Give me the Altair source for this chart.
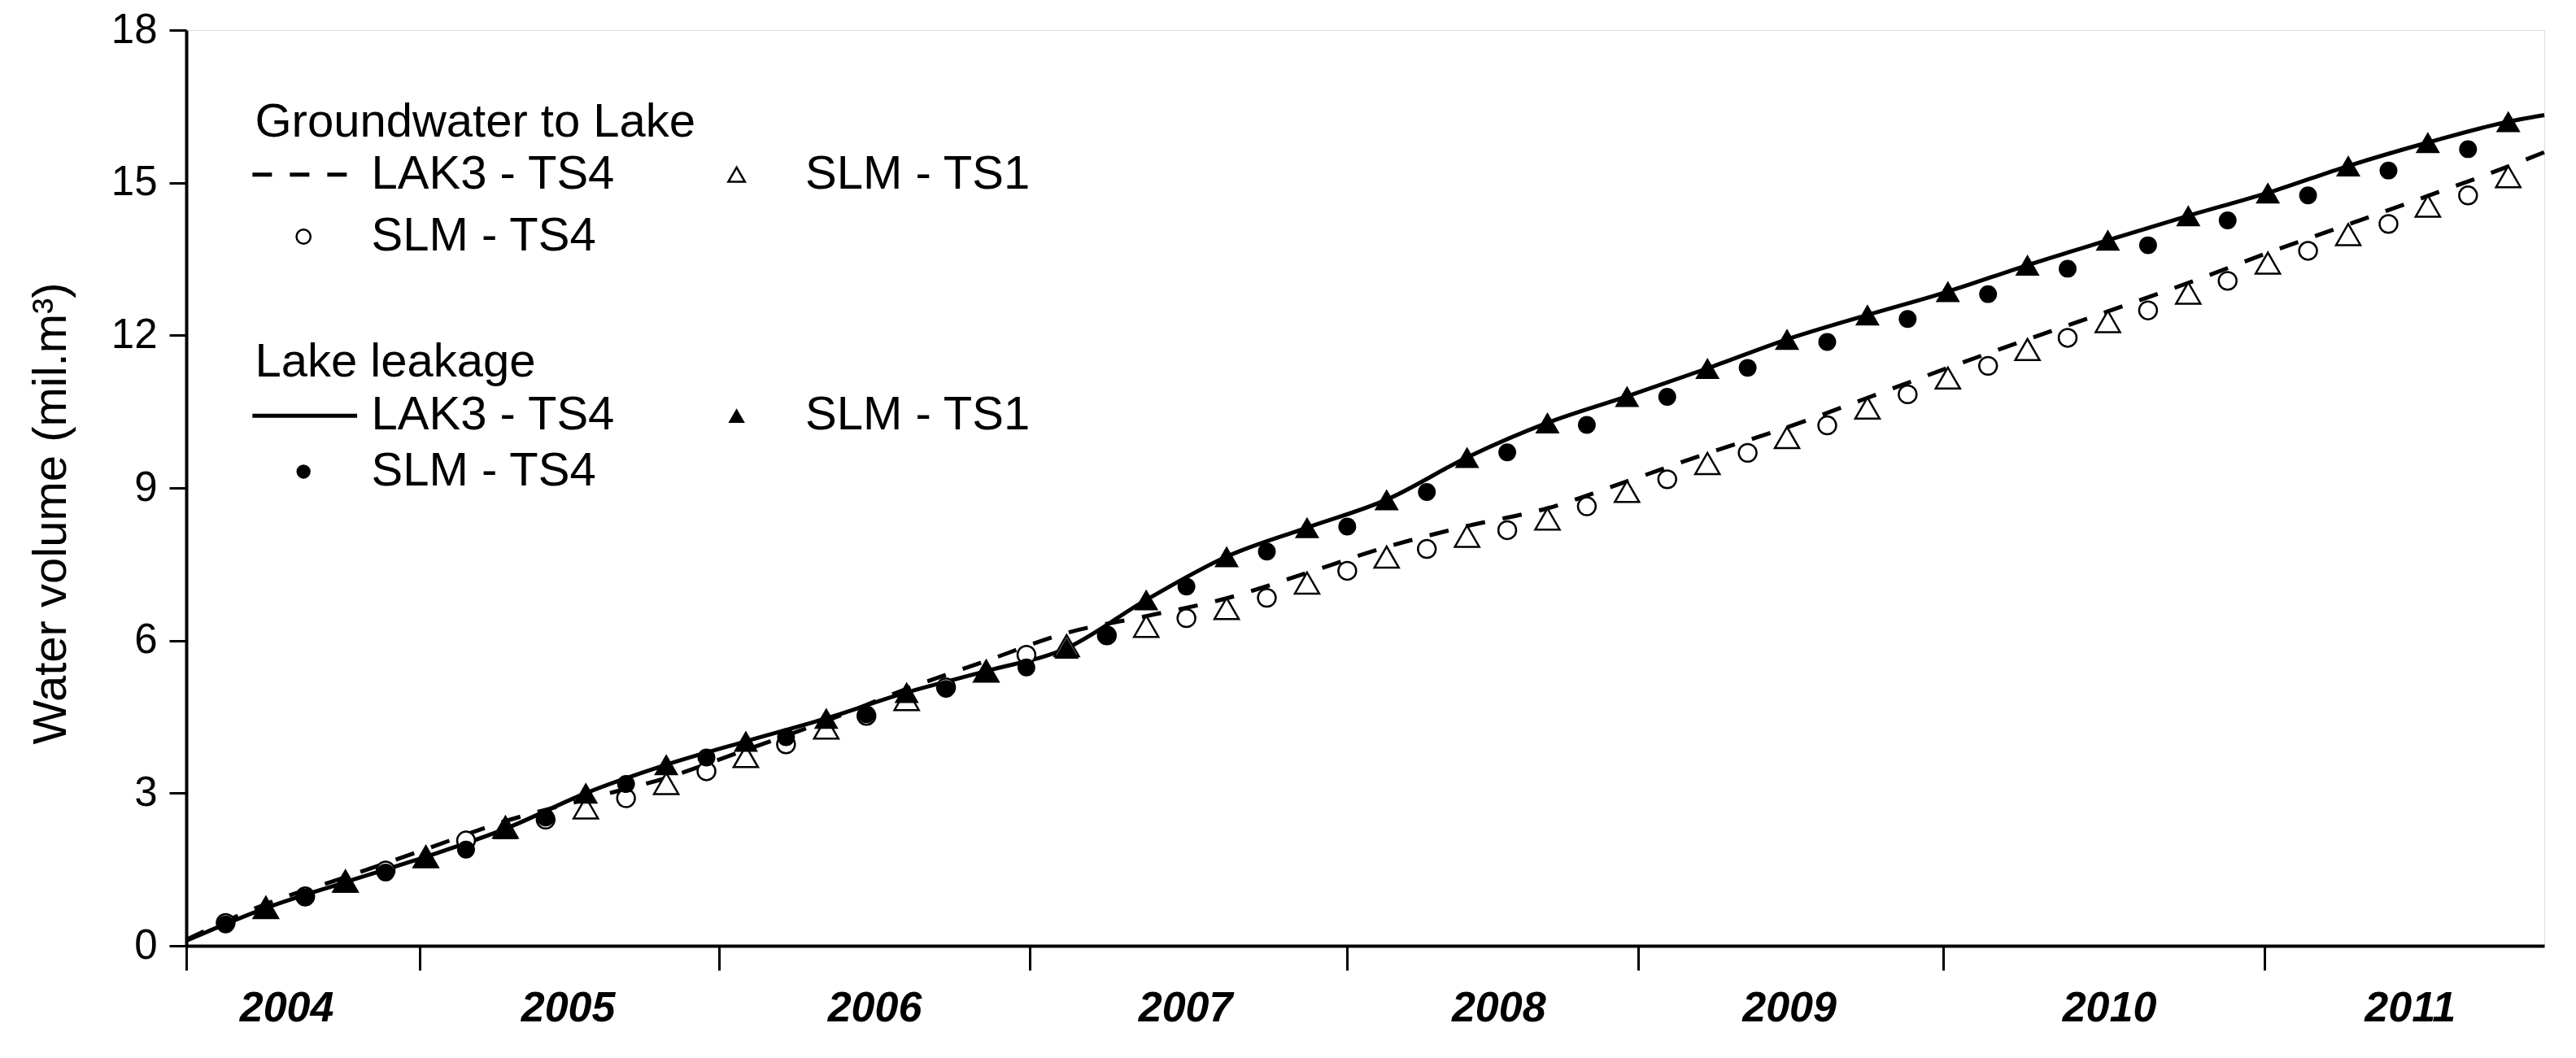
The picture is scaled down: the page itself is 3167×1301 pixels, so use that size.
import altair as alt
import pandas as pd

# ---------------- data ----------------
X_END = 2815                      # days shown on the time axis
TICK_DAYS = [0, 279, 636, 1007, 1386, 1733, 2097, 2481]   # year boundaries
YEAR_LABELS = ["2004", "2005", "2006", "2007", "2008", "2009", "2010", "2011"]
YEAR_LABEL_DAYS = [120, 456, 822, 1193, 1567, 1914, 2296, 2655]
Y_TICKS = [0, 3, 6, 9, 12, 15, 18]

SLM_TS4_DAYS = [47, 142, 238, 334, 429, 525, 621, 716, 812, 907, 1003, 1099, 1194, 1290,
                1386, 1481, 1577, 1672, 1768, 1864, 1959, 2055, 2151, 2246, 2342, 2437,
                2533, 2629, 2724]
SLM_TS1_DAYS = [95, 190, 286, 381, 477, 573, 668, 764, 860, 955, 1051, 1146, 1242, 1338,
                1433, 1529, 1625, 1720, 1816, 1911, 2007, 2103, 2198, 2294, 2390, 2485,
                2581, 2676, 2772]
LAK3_DAYS = [0, 95, 190, 286, 381, 477, 573, 668, 764, 860, 955, 1051, 1146, 1242, 1338,
             1433, 1529, 1625, 1720, 1816, 1911, 2007, 2103, 2198, 2294, 2390, 2485,
             2581, 2676, 2772, 2815]

# Groundwater to Lake
GW_LAK3_TS4 = [0.12, 0.82, 1.35, 1.90, 2.45, 2.88, 3.30, 3.85, 4.42, 5.05, 5.60, 6.15,
               6.48, 6.83, 7.33, 7.84, 8.25, 8.60, 9.13, 9.68, 10.19, 10.77, 11.36, 11.92,
               12.47, 13.03, 13.62, 14.18, 14.74, 15.32, 15.60]
GW_SLM_TS1 = [0.75, 1.27, 1.75, 2.33, 2.71, 3.19, 3.72, 4.28, 4.84, 5.40, 5.90, 6.28,
              6.63, 7.13, 7.64, 8.05, 8.39, 8.93, 9.48, 9.99, 10.57, 11.16, 11.72, 12.27,
              12.83, 13.42, 13.98, 14.54, 15.12]
GW_SLM_TS4 = [0.45, 0.97, 1.48, 2.07, 2.48, 2.90, 3.43, 3.96, 4.52, 5.08, 5.72, 6.10,
              6.44, 6.84, 7.37, 7.80, 8.17, 8.64, 9.17, 9.69, 10.23, 10.84, 11.40, 11.95,
              12.49, 13.07, 13.66, 14.19, 14.75]

# Lake leakage
LEAK_LAK3_TS4 = [0.10, 0.74, 1.25, 1.75, 2.30, 3.00, 3.56, 4.02, 4.47, 4.98, 5.40, 5.85,
                 6.80, 7.65, 8.22, 8.77, 9.60, 10.28, 10.80, 11.35, 11.92, 12.40, 12.86,
                 13.38, 13.87, 14.35, 14.80, 15.33, 15.79, 16.20, 16.33]
LEAK_SLM_TS1 = [0.74, 1.25, 1.75, 2.30, 3.00, 3.56, 4.02, 4.47, 4.98, 5.40, 5.85, 6.80,
                7.65, 8.22, 8.77, 9.60, 10.28, 10.80, 11.35, 11.92, 12.40, 12.86, 13.38,
                13.87, 14.35, 14.80, 15.33, 15.79, 16.20]
LEAK_SLM_TS4 = [0.42, 0.95, 1.44, 1.89, 2.52, 3.18, 3.70, 4.10, 4.55, 5.05, 5.47, 6.12,
                7.06, 7.75, 8.24, 8.92, 9.70, 10.24, 10.79, 11.36, 11.87, 12.32, 12.81,
                13.31, 13.77, 14.26, 14.75, 15.24, 15.66]

# legend (in data coordinates of the plot)
LEG_TITLES = ["Groundwater to Lake", "Lake leakage"]
LEG_TITLE_DAY = [82, 82]
LEG_TITLE_V = [16.18, 11.46]
LEG_TEXTS = ["LAK3 - TS4", "SLM - TS1", "SLM - TS4", "LAK3 - TS4", "SLM - TS1", "SLM - TS4"]
LEG_TEXT_DAY = [221, 739, 221, 221, 739, 221]
LEG_TEXT_V = [15.16, 15.16, 13.94, 10.42, 10.42, 9.32]
LEG_LINE_DAY = [79, 204]

# ---------------- chart ----------------
W, H = 2899, 1126
FONT = "Liberation Sans"

XS = alt.Scale(domain=[0, X_END], nice=False, zero=False)
YS = alt.Scale(domain=[0, 18], nice=False, zero=True)
XAXIS = alt.Axis(values=TICK_DAYS, labels=False, title=None, tickSize=30, tickWidth=3,
                 tickColor="black", domainColor="black", domainWidth=4, grid=False)
YAXIS = alt.Axis(values=Y_TICKS, title="Water volume (mil.m³)", titleFontSize=58,
                 titleFontWeight="normal", titleFont=FONT, titleColor="black",
                 titleX=-166, titleY=594, titleAngle=-90, titleAlign="center",
                 titleBaseline="middle",
                 labelFontSize=51, labelFont=FONT, labelColor="black", labelPadding=15,
                 tickSize=21, tickWidth=3, tickColor="black", domainColor="black",
                 domainWidth=4, grid=False)
X = alt.X("day:Q", scale=XS, axis=XAXIS)
Y = alt.Y("v:Q", scale=YS, axis=YAXIS)

gw_line = pd.DataFrame({"day": LAK3_DAYS, "v": GW_LAK3_TS4})
lk_line = pd.DataFrame({"day": LAK3_DAYS, "v": LEAK_LAK3_TS4})
gw_t1 = pd.DataFrame({"day": SLM_TS1_DAYS, "v": GW_SLM_TS1})
gw_t4 = pd.DataFrame({"day": SLM_TS4_DAYS, "v": GW_SLM_TS4})
lk_t1 = pd.DataFrame({"day": SLM_TS1_DAYS, "v": LEAK_SLM_TS1})
lk_t4 = pd.DataFrame({"day": SLM_TS4_DAYS, "v": LEAK_SLM_TS4})

TRI = 900
CIR = 480

dashed = alt.Chart(gw_line).mark_line(color="black", strokeWidth=5, strokeDash=[24, 22],
                                       interpolate="monotone").encode(x=X, y=Y)
solid = alt.Chart(lk_line).mark_line(color="black", strokeWidth=5,
                                     interpolate="monotone").encode(x=X, y=Y)
open_tri = alt.Chart(gw_t1).mark_point(shape="triangle-up", size=TRI, filled=True,
                                       fill="white", stroke="black", strokeWidth=2.5,
                                       opacity=1).encode(x=X, y=Y)
open_cir = alt.Chart(gw_t4).mark_point(shape="circle", size=CIR, filled=True,
                                       fill="white", stroke="black", strokeWidth=2.5,
                                       opacity=1).encode(x=X, y=Y)
fill_tri = alt.Chart(lk_t1).mark_point(shape="triangle-up", size=TRI, filled=True,
                                       color="black", opacity=1).encode(x=X, y=Y)
fill_cir = alt.Chart(lk_t4).mark_point(shape="circle", size=CIR, filled=True,
                                       color="black", opacity=1).encode(x=X, y=Y)

years = alt.Chart(pd.DataFrame({"day": YEAR_LABEL_DAYS, "lab": YEAR_LABELS})).mark_text(
    font=FONT, fontSize=52, fontWeight="bold", fontStyle="italic", color="black",
    baseline="middle", align="center").encode(x=X, y=alt.value(H + 77), text="lab:N")

# legend
leg_titles = alt.Chart(pd.DataFrame({"day": LEG_TITLE_DAY, "v": LEG_TITLE_V,
                                     "lab": LEG_TITLES})).mark_text(
    font=FONT, fontSize=58, color="black", align="left", baseline="middle").encode(
    x=X, y=Y, text="lab:N")
leg_texts = alt.Chart(pd.DataFrame({"day": LEG_TEXT_DAY, "v": LEG_TEXT_V,
                                    "lab": LEG_TEXTS})).mark_text(
    font=FONT, fontSize=58, color="black", align="left", baseline="middle").encode(
    x=X, y=Y, text="lab:N")
leg_dash = alt.Chart(pd.DataFrame({"day": [LEG_LINE_DAY[0]], "day2": [LEG_LINE_DAY[1]],
                                   "v": [LEG_TEXT_V[0]]})).mark_rule(
    color="black", strokeWidth=5, strokeDash=[24, 22]).encode(x=X, x2="day2:Q", y=Y)
leg_solid = alt.Chart(pd.DataFrame({"day": [LEG_LINE_DAY[0]], "day2": [LEG_LINE_DAY[1]],
                                    "v": [LEG_TEXT_V[3]]})).mark_rule(
    color="black", strokeWidth=5).encode(x=X, x2="day2:Q", y=Y)
leg_otri = alt.Chart(pd.DataFrame({"day": [657], "v": [LEG_TEXT_V[1]]})).mark_point(
    shape="triangle-up", size=420, filled=True, fill="white", stroke="black",
    strokeWidth=2.5, opacity=1).encode(x=X, y=Y)
leg_ocir = alt.Chart(pd.DataFrame({"day": [140], "v": [LEG_TEXT_V[2]]})).mark_point(
    shape="circle", size=300, filled=True, fill="white", stroke="black",
    strokeWidth=2.5, opacity=1).encode(x=X, y=Y)
leg_ftri = alt.Chart(pd.DataFrame({"day": [657], "v": [LEG_TEXT_V[4]]})).mark_point(
    shape="triangle-up", size=420, filled=True, color="black", opacity=1).encode(x=X, y=Y)
leg_fcir = alt.Chart(pd.DataFrame({"day": [140], "v": [LEG_TEXT_V[5]]})).mark_point(
    shape="circle", size=300, filled=True, color="black", opacity=1).encode(x=X, y=Y)

chart = alt.layer(
    dashed, solid, open_tri, open_cir, fill_tri, fill_cir, years,
    leg_titles, leg_texts, leg_dash, leg_solid, leg_otri, leg_ocir, leg_ftri, leg_fcir
).properties(
    width=W, height=H,
    autosize=alt.AutoSizeParams(type="none"),
    padding={"left": 221, "top": 29, "right": 20, "bottom": 130},
    background="white",
).configure_view(
    stroke="black", strokeWidth=4
).configure(font=FONT)

chart.save("out.html", embed_options={"renderer": "svg", "actions": False})
